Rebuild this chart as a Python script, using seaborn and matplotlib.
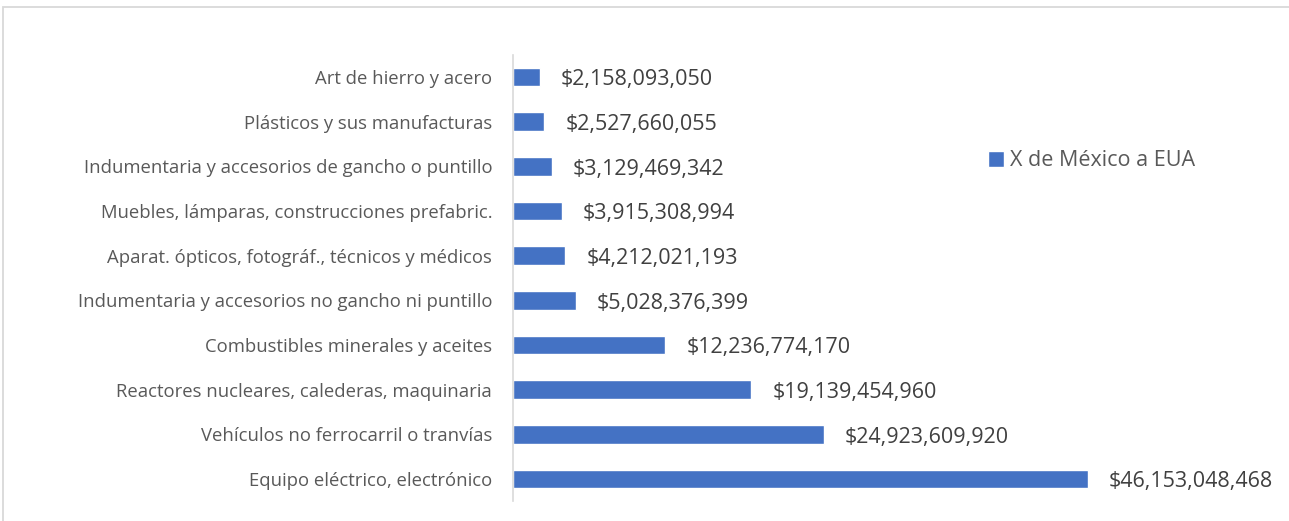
import matplotlib
matplotlib.use("Agg")
import matplotlib.pyplot as plt
import seaborn as sns
import pandas as pd
from matplotlib.patches import Rectangle

categories = [
    "Art de hierro y acero",
    "Plásticos y sus manufacturas",
    "Indumentaria y accesorios de gancho o puntillo",
    "Muebles, lámparas, construcciones prefabric.",
    "Aparat. ópticos, fotográf., técnicos y médicos",
    "Indumentaria y accesorios no gancho ni puntillo",
    "Combustibles minerales y aceites",
    "Reactores nucleares, calederas, maquinaria",
    "Vehículos no ferrocarril o tranvías",
    "Equipo eléctrico, electrónico",
]
values = [
    2158093050,
    2527660055,
    3129469342,
    3915308994,
    4212021193,
    5028376399,
    12236774170,
    19139454960,
    24923609920,
    46153048468,
]
series_name = "X de México a EUA"

df = pd.DataFrame({"categoria": categories, "valor": values})

sns.set_theme(style="white")
plt.rcParams["font.family"] = ["Open Sans", "DejaVu Sans"]

W, H = 1289, 521
fig = plt.figure(figsize=(W / 100, H / 100), dpi=100)
ax = fig.add_axes([513 / W, (H - 501.3) / H, 623 / W, 446.7 / H])

bar_color = "#4472C4"
sns.barplot(data=df, x="valor", y="categoria", color=bar_color, width=0.42,
            orient="h", ax=ax, label=series_name, saturation=1)

ax.set_xlim(0, 50e9)
ax.set_ylim(9.5, -0.5)
ax.set_xlabel("")
ax.set_ylabel("")
ax.set_xticks([])
ax.tick_params(axis="y", length=0, pad=15, labelsize=13.3, labelcolor="#595959")
for s in ["top", "right", "bottom"]:
    ax.spines[s].set_visible(False)
ax.spines["left"].set_color("#D9D9D9")
ax.spines["left"].set_linewidth(1.2)

# value labels to the right of each bar
for container in ax.containers:
    texts = ax.bar_label(container, labels=[f"${v:,.0f}" for v in values],
                         padding=15, fontsize=15.5, color="#404040",
                         clip_on=False)
    for t in texts:
        t.xyann = (t.xyann[0], t.xyann[1] - 2)

leg = ax.legend(loc="center left", bbox_to_anchor=(988 / W, (H - 161) / H),
                bbox_transform=fig.transFigure, frameon=False, fontsize=15.5,
                handlelength=0.75, handleheight=0.75, handletextpad=0.25,
                borderaxespad=0, borderpad=0)
for t in leg.get_texts():
    t.set_color("#595959")

# chart-area border
fig.patches.append(Rectangle((3 / W, -0.1), 1.2, 1 - 7 / H + 0.1,
                             transform=fig.transFigure, fill=False,
                             edgecolor="#D9D9D9", linewidth=1.3))

fig.savefig("out.png", dpi=100)
